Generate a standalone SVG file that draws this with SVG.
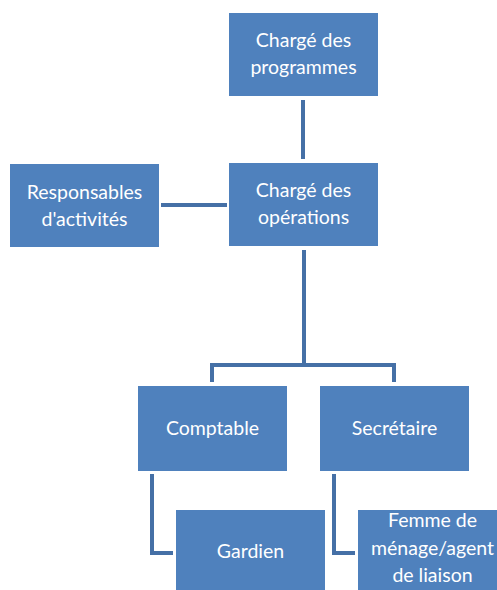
<svg xmlns="http://www.w3.org/2000/svg" width="497" height="590" viewBox="0 0 497 590">
<style>
.box{fill:#4F81BD;}
.t{font-family:Lato,"Liberation Sans",Arial,sans-serif;font-size:19.5px;fill:#FFFFFF;text-anchor:middle;}
.c{fill:none;stroke:#4570A6;stroke-width:4;}
</style>
<rect width="497" height="590" fill="#FFFFFF"/>
<g id="connectors">
<line class="c" x1="303" y1="100" x2="303" y2="159"/>
<line class="c" x1="161" y1="205" x2="227" y2="205"/>
<polyline class="c" points="304,250 304,365"/>
<polyline class="c" points="212,382 212,365 394,365 394,382"/>
<polyline class="c" points="152,474 152,553 173,553"/>
<polyline class="c" points="334,474 334,553 355,553"/>
</g>
<g id="charge-programmes">
<rect class="box" x="229" y="13" width="149" height="83"/>
<text class="t" x="303.5" y="47">Chargé des</text>
<text class="t" x="303.5" y="74">programmes</text>
</g>
<g id="charge-operations">
<rect class="box" x="229" y="163" width="149" height="83"/>
<text class="t" x="303.5" y="197">Chargé des</text>
<text class="t" x="303.5" y="224">opérations</text>
</g>
<g id="responsables">
<rect class="box" x="10" y="164" width="149" height="83"/>
<text class="t" x="84.5" y="199">Responsables</text>
<text class="t" x="84.5" y="226">d'activités</text>
</g>
<g id="comptable">
<rect class="box" x="138" y="386" width="149" height="85"/>
<text class="t" x="212.5" y="435">Comptable</text>
</g>
<g id="secretaire">
<rect class="box" x="320" y="386" width="149" height="85"/>
<text class="t" x="394.5" y="435">Secrétaire</text>
</g>
<g id="gardien">
<rect class="box" x="176" y="510" width="149" height="85"/>
<text class="t" x="250.5" y="558">Gardien</text>
</g>
<g id="femme">
<rect class="box" x="358" y="510" width="149" height="85"/>
<text class="t" x="432.5" y="527">Femme de</text>
<text class="t" x="432.5" y="555">ménage/agent</text>
<text class="t" x="432.5" y="582">de liaison</text>
</g>
</svg>
